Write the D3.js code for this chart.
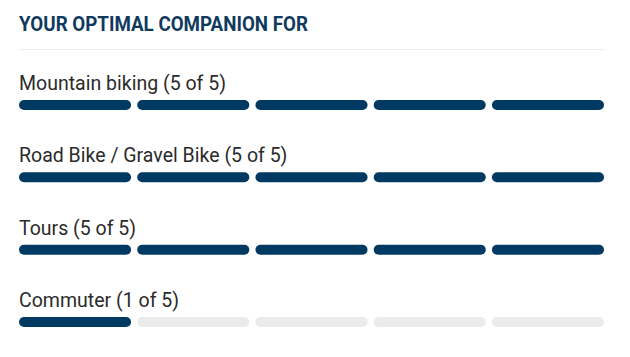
<!DOCTYPE html>
<html><head><meta charset="utf-8">
<script src="https://cdn.jsdelivr.net/npm/d3@7"></script>
<style>html,body{margin:0;padding:0;background:#fff;}svg{display:block;}</style>
</head><body>
<svg id="chart" width="630" height="357"></svg>
<script>
const title = "YOUR OPTIMAL COMPANION FOR";
const categories = ["Mountain biking", "Road Bike / Gravel Bike", "Tours", "Commuter"];
const scores = [5, 5, 5, 1];
const maxScore = 5;

const svg = d3.select("#chart");
const left = 19, right = 604;
const font = "Roboto, 'Noto Sans', sans-serif";

svg.append("text").attr("x", left).attr("y", 31)
  .attr("font-family", font).attr("font-weight", 700).attr("font-size", 21)
  .attr("textLength", 289).attr("lengthAdjust", "spacingAndGlyphs")
  .attr("fill", "#0f3a5e").text(title);

svg.append("line").attr("x1", left).attr("x2", right + 1).attr("y1", 49.5).attr("y2", 49.5)
  .attr("stroke", "#ececec").attr("stroke-width", 1);

const y = d3.scalePoint().domain(categories).range([100, 317]);
const seg = d3.scaleBand().domain(d3.range(1, maxScore + 1)).range([left, right]).paddingInner(0.052);

const rows = svg.selectAll("g.row").data(categories).join("g")
  .attr("class", "row").attr("transform", d => `translate(0,${y(d)})`);

rows.append("text")
  .attr("transform", `translate(${left},-10) scale(0.93,1)`)
  .attr("font-family", font).attr("font-size", 21).attr("fill", "#2b2b2b")
  .text((d, i) => `${d} (${scores[i]} of ${maxScore})`);

rows.each(function(d, i) {
  d3.select(this).selectAll("rect").data(seg.domain()).join("rect")
    .attr("x", s => seg(s)).attr("y", 0)
    .attr("width", seg.bandwidth()).attr("height", 10)
    .attr("rx", 5).attr("ry", 5)
    .attr("fill", s => s <= scores[i] ? "#003a63" : "#ebebeb");
});
</script>
</body></html>
